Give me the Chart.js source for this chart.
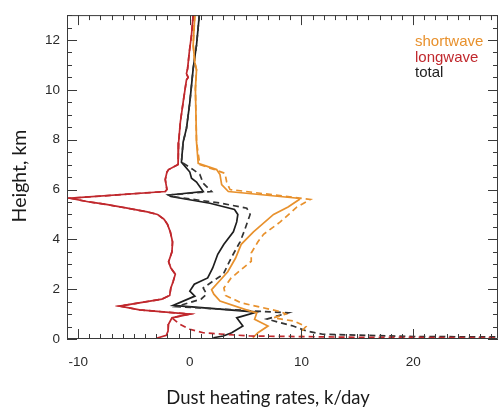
<!DOCTYPE html>
<html>
<head>
<meta charset="utf-8">
<title>Dust heating rates</title>
<script src="https://cdn.jsdelivr.net/npm/chart.js@4/dist/chart.umd.min.js"></script>
<style>
  html, body { margin: 0; padding: 0; background: #ffffff; }
  #wrap { width: 499px; height: 412px; }
</style>
</head>
<body>
<div id="wrap"><canvas id="chart" width="499" height="412"></canvas></div>
<script>
// Vertical profiles of dust heating rate (K/day) against height (km).
// Solid and dashed variants for each component.

const seriesNames = ['shortwave', 'longwave', 'total'];
const xTickLabels = [-10, 0, 10, 20];
const yTickLabels = [0, 2, 4, 6, 8, 10, 12];

// shortwave, solid
const swHeights = [13.0, 11.8, 11.1, 10.8, 10.05, 7.9, 7.05, 6.8, 6.6, 6.2, 5.92, 5.65, 5.6, 5.3, 5.0, 4.3, 3.8, 3.25, 2.7, 1.98, 1.8, 1.52, 1.12, 1.05, 0.79, 0.52, 0.25, 0.05];
const swRates   = [0.45, 0.3, 0.45, 0.6, 0.5, 0.6, 0.75, 2.4, 2.7, 2.85, 3.45, 9.7, 9.8, 8.8, 7.5, 5.7, 4.6, 4.1, 3.4, 1.95, 2.15, 2.7, 5.4, 6.0, 5.8, 7.0, 6.1, 5.65];

// shortwave, dashed
const swDashHeights = [13.0, 11.8, 11.1, 10.8, 10.05, 7.9, 7.0, 6.65, 6.3, 6.0, 5.6, 5.3, 4.7, 4.2, 3.9, 3.45, 3.12, 2.45, 2.05, 1.75, 1.45, 1.1, 1.0, 0.85, 0.72, 0.5, 0.3, 0.05];
const swDashRates   = [0.45, 0.3, 0.45, 0.6, 0.5, 0.6, 0.9, 3.15, 3.3, 3.6, 10.8, 9.6, 8.1, 6.6, 6.1, 5.5, 5.5, 3.7, 3.05, 3.2, 4.6, 8.1, 8.6, 7.5, 9.3, 10.4, 10.0, 10.0];

// longwave, solid
const lwHeights = [13.0, 12.2, 11.5, 10.85, 10.65, 10.5, 10.4, 9.5, 8.7, 7.9, 7.0, 6.8, 6.7, 6.4, 6.0, 5.92, 5.65, 5.5, 5.4, 5.25, 5.1, 5.0, 4.8, 4.6, 4.3, 3.9, 3.5, 3.1, 2.85, 2.6, 2.3, 2.05, 1.75, 1.6, 1.32, 1.17, 1.0, 0.85, 0.6, 0.32, 0.15, 0.03];
const lwRates   = [0.3, 0.15, -0.05, -0.2, -0.3, -0.15, -0.3, -0.6, -0.85, -1.0, -1.05, -1.9, -2.05, -2.2, -2.05, -2.2, -10.7, -9.0, -7.5, -5.6, -3.8, -2.9, -2.3, -2.0, -1.75, -1.55, -1.6, -1.9, -1.7, -1.3, -1.5, -1.7, -1.8, -2.5, -6.3, -4.5, 0.0, -1.6, -1.9, -1.95, -2.1, -3.0];

// longwave, dashed
const lwDashHeights = [13.0, 12.2, 11.5, 10.85, 10.65, 10.5, 10.4, 9.5, 8.7, 7.9, 7.0, 6.8, 6.7, 6.4, 6.0, 5.92, 5.65, 5.5, 5.4, 5.25, 5.1, 5.0, 4.8, 4.6, 4.3, 3.9, 3.5, 3.1, 2.85, 2.6, 2.3, 2.05, 1.75, 1.6, 1.32, 1.17, 1.0, 0.85, 0.59, 0.39, 0.25, 0.2, 0.12, 0.07, 0.03];
const lwDashRates   = [0.3, 0.15, -0.05, -0.2, -0.3, -0.15, -0.3, -0.6, -0.85, -1.0, -1.05, -1.9, -2.05, -2.2, -2.05, -2.2, -10.7, -9.0, -7.5, -5.6, -3.8, -2.9, -2.3, -2.0, -1.75, -1.55, -1.6, -1.9, -1.7, -1.3, -1.5, -1.7, -1.8, -2.5, -6.3, -4.5, 0.0, -1.6, -0.9, 0.0, 1.2, 2.7, 5.4, 15, 40];

// total, solid
const totHeights = [13.0, 11.8, 10.85, 9.5, 8.45, 7.9, 7.1, 6.7, 6.45, 6.3, 5.92, 5.78, 5.72, 5.45, 5.2, 5.0, 4.7, 4.3, 3.8, 3.4, 2.85, 2.45, 2.2, 1.92, 1.72, 1.35, 1.08, 0.85, 0.52, 0.25, 0.12, 0.05];
const totRates   = [0.85, 0.6, 0.3, 0.0, -0.3, -0.6, -0.75, 0.0, 0.15, 0.6, 1.2, -1.9, -1.7, 1.8, 4.0, 4.3, 4.2, 3.9, 3.05, 2.5, 2.05, 1.6, 0.4, 0.0, 0.45, -1.5, 6.0, 4.2, 4.75, 3.75, 3.0, 2.1];

// total, dashed
const totDashHeights = [13.0, 11.8, 10.85, 9.5, 8.45, 7.9, 7.1, 6.8, 6.6, 6.25, 5.92, 5.78, 5.72, 5.45, 5.25, 5.0, 4.3, 3.9, 3.25, 2.6, 2.3, 2.05, 1.8, 1.6, 1.3, 1.05, 0.8, 0.52, 0.32, 0.19, 0.1, 0.05];
const totDashRates   = [0.85, 0.6, 0.3, 0.0, -0.3, -0.6, -0.75, 0.3, 0.9, 1.2, 1.95, -1.9, -1.6, 2.8, 5.1, 5.4, 4.85, 4.5, 3.7, 3.0, 2.0, 1.2, 1.5, 1.0, -1.2, 8.8, 6.9, 9.25, 10.45, 11.9, 20, 40];

const ORANGE = '#e8912d';
const RED = '#c0282d';
const BLACK = '#1e1e1e';
const DARK = '#333333';

function profile(heights, rates) {
  return heights.map((h, i) => ({ x: rates[i], y: h }));
}

function line(label, heights, rates, color, dashed) {
  return {
    label: label,
    data: profile(heights, rates),
    showLine: true,
    borderColor: color,
    backgroundColor: color,
    borderWidth: 1.7,
    borderDash: dashed ? [6, 4] : [],
    pointRadius: 0,
    tension: 0,
    fill: false
  };
}

// Box frame with inward IDL-style tick marks on all four sides
const frameTicks = {
  id: 'frameTicks',
  afterDatasetsDraw(chart) {
    const { ctx, chartArea: a, scales: { x, y } } = chart;
    ctx.save();
    ctx.strokeStyle = '#3a3a3a';
    ctx.lineWidth = 1;
    ctx.beginPath();
    ctx.rect(a.left + 0.5, a.top + 0.5, a.right - a.left - 1, a.bottom - a.top - 1);
    ctx.stroke();
    ctx.beginPath();
    for (let v = Math.ceil(x.min); v <= x.max; v += 1) {
      const px = Math.round(x.getPixelForValue(v)) + 0.5;
      const len = xTickLabels.includes(v) ? 10 : 5;
      ctx.moveTo(px, a.bottom); ctx.lineTo(px, a.bottom - len);
      ctx.moveTo(px, a.top); ctx.lineTo(px, a.top + len);
    }
    for (let v = 0; v <= y.max + 1e-9; v += 0.5) {
      const py = Math.round(y.getPixelForValue(v)) + 0.5;
      const len = yTickLabels.includes(v) ? 10 : 5;
      ctx.moveTo(a.left, py); ctx.lineTo(a.left + len, py);
      ctx.moveTo(a.right, py); ctx.lineTo(a.right - len, py);
    }
    ctx.stroke();
    ctx.restore();
  }
};

// Coloured-text key in the upper right and the two axis titles
const annotations = {
  id: 'annotations',
  afterDraw(chart) {
    const { ctx } = chart;
    ctx.save();
    ctx.font = '15px "Liberation Sans", Arial, sans-serif';
    ctx.textAlign = 'left';
    ctx.textBaseline = 'middle';
    const keyColors = [ORANGE, RED, BLACK];
    seriesNames.forEach((name, i) => {
      ctx.fillStyle = keyColors[i];
      ctx.fillText(name, 415, 42 + i * 15.5);
    });

    ctx.fillStyle = '#1a1a1a';
    ctx.font = '18.5px Lato, "Open Sans", sans-serif';
    ctx.textAlign = 'center';
    ctx.fillText('Dust heating rates, k/day', 268, 398);

    ctx.font = '19.5px Lato, "Open Sans", sans-serif';
    ctx.translate(20, 176);
    ctx.rotate(-Math.PI / 2);
    ctx.fillText('Height, km', 0, 0);
    ctx.restore();
  }
};

const tickFont = { family: '"Liberation Sans", Arial, sans-serif', size: 13.5 };

new Chart(document.getElementById('chart'), {
  type: 'scatter',
  data: {
    datasets: [
      line(seriesNames[1], lwDashHeights, lwDashRates, RED, true),
      line(seriesNames[1], lwHeights, lwRates, RED, false),
      line(seriesNames[0], swDashHeights, swDashRates, ORANGE, true),
      line(seriesNames[0], swHeights, swRates, ORANGE, false),
      line(seriesNames[2], totDashHeights, totDashRates, DARK, true),
      line(seriesNames[2], totHeights, totRates, BLACK, false)
    ]
  },
  options: {
    responsive: false,
    animation: false,
    devicePixelRatio: 1,
    events: [],
    layout: { padding: { top: 14, right: 1, left: 0, bottom: 0 } },
    plugins: {
      legend: { display: false },
      tooltip: { enabled: false }
    },
    scales: {
      x: {
        type: 'linear',
        min: -11,
        max: 27.6,
        afterBuildTicks: s => { s.ticks = xTickLabels.map(v => ({ value: v })); },
        afterFit: s => { s.height = 73; },
        grid: { display: false, drawTicks: false },
        border: { display: false },
        ticks: { color: '#2a2a2a', font: tickFont, padding: 15, maxRotation: 0 }
      },
      y: {
        type: 'linear',
        min: 0,
        max: 13,
        afterBuildTicks: s => { s.ticks = yTickLabels.map(v => ({ value: v })); },
        afterFit: s => { s.width = 67; },
        grid: { display: false, drawTicks: false },
        border: { display: false },
        ticks: { color: '#2a2a2a', font: tickFont, padding: 7 }
      }
    }
  },
  plugins: [frameTicks, annotations]
});
</script>
</body>
</html>
